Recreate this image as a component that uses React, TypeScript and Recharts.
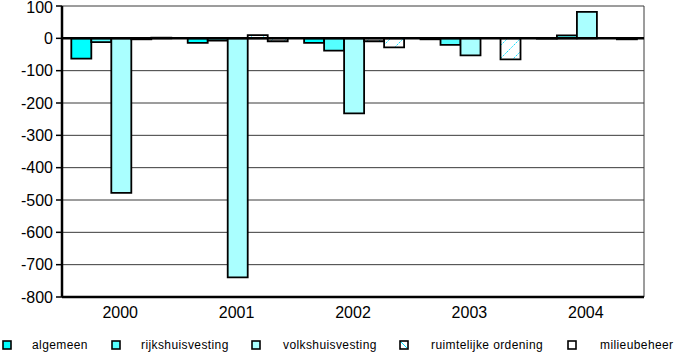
import { BarChart, Bar, XAxis, YAxis, CartesianGrid, ReferenceLine } from 'recharts';

const years = ['2000', '2001', '2002', '2003', '2004'];
const algemeen = [-63, -14, -14, -3, -1];
const rijkshuisvesting = [-12, -7, -38, -20, 9];
const volkshuisvesting = [-478, -739, -232, -53, 82];
const ruimtelijkeOrdening = [-3, 10, -9, 0, 0];
const milieubeheer = [2, -9, -28, -65, -3];
const yTicks = [100, 0, -100, -200, -300, -400, -500, -600, -700, -800];

const SERIES = [
  { key: 'algemeen', label: 'algemeen', fill: '#00ffff', legendX: 2, textX: 32 },
  { key: 'rijkshuisvesting', label: 'rijkshuisvesting', fill: '#55ffff', legendX: 111, textX: 141 },
  { key: 'volkshuisvesting', label: 'volkshuisvesting', fill: '#aaffff', legendX: 251, textX: 283 },
  { key: 'ruimtelijkeOrdening', label: 'ruimtelijke ordening', fill: 'url(#hatchA)', legendX: 399, textX: 431 },
  { key: 'milieubeheer', label: 'milieubeheer', fill: 'url(#hatchB)', legendX: 567, textX: 600 },
];

const data = years.map((year, i) => ({
  year,
  algemeen: algemeen[i],
  rijkshuisvesting: rijkshuisvesting[i],
  volkshuisvesting: volkshuisvesting[i],
  ruimtelijkeOrdening: ruimtelijkeOrdening[i],
  milieubeheer: milieubeheer[i],
}));

const font = '"Liberation Sans", Arial, sans-serif';

// y-as labels; het bovenste label iets omlaag zodat het niet van de rand valt
function YTick({ x, y, payload }: any) {
  const top = payload.value === yTicks[0];
  return (
    <text x={x} y={y} dy={top ? 7 : 5.5} textAnchor="end" fontSize={16} fontFamily={font} fill="#000">
      {payload.value}
    </text>
  );
}

function LegendRow() {
  return (
    <div style={{ position: 'absolute', left: 0, top: 338, width: 677, height: 15, fontFamily: font, fontSize: 12, lineHeight: '14px' }}>
      {SERIES.map(s => (
        <div key={s.key}>
          <svg width={10} height={10} style={{ position: 'absolute', left: s.legendX, top: 2 }}>
            <defs>
              <pattern id={`lg-${s.key}`} patternUnits="userSpaceOnUse" width="8" height="8">
                <rect width="8" height="8" fill="#fff" />
                <path d="M1,1 L8,8" stroke="#00e0ff" strokeWidth="1" />
              </pattern>
            </defs>
            <rect x={1} y={1} width={8} height={8} fill={s.fill.startsWith('url') ? (s.key === 'milieubeheer' ? '#fff' : `url(#lg-${s.key})`) : s.fill} stroke="#000" strokeWidth={1.6} />
          </svg>
          <span style={{ position: 'absolute', left: s.textX, top: 0, whiteSpace: 'nowrap', color: '#000', letterSpacing: 0.4 }}>{s.label}</span>
        </div>
      ))}
    </div>
  );
}

export default function App() {
  return (
    <div style={{ position: 'absolute', left: 0, top: 0, width: 677, height: 353, background: '#fff' }}>
      <BarChart
        width={677}
        height={353}
        data={data}
        margin={{ top: 6, right: 33, left: 0, bottom: 26 }}
        barCategoryGap="8%"
        barGap={0}
      >
        <defs>
          <pattern id="hatchA" patternUnits="userSpaceOnUse" width="12" height="12">
            <rect width="12" height="12" fill="#fff" />
            <path d="M0,12 L12,0" stroke="#00e0ff" strokeWidth="1" strokeDasharray="1.5 1" />
          </pattern>
          <pattern id="hatchB" patternUnits="userSpaceOnUse" width="13" height="13">
            <rect width="13" height="13" fill="#fff" />
            <path d="M0,13 L13,0" stroke="#00e0ff" strokeWidth="1" strokeDasharray="1.5 1" />
          </pattern>
        </defs>
        <CartesianGrid
          stroke="#3a3a3a"
          strokeWidth={1}
          verticalCoordinatesGenerator={({ offset }: any) => [offset.left + offset.width]}
        />
        <XAxis
          dataKey="year"
          height={30}
          tickLine={false}
          tickMargin={4}
          axisLine={{ stroke: '#000', strokeWidth: 2.5 }}
          tick={{ fontSize: 16, fill: '#000', fontFamily: font }}
        />
        <YAxis
          width={62}
          domain={[-800, 100]}
          ticks={yTicks}
          interval={0}
          tickSize={6}
          tickMargin={3}
          axisLine={{ stroke: '#000', strokeWidth: 2.5 }}
          tickLine={{ stroke: '#000', strokeWidth: 1.5 }}
          tick={<YTick />}
        />
        {SERIES.map(s => (
          <Bar
            key={s.key}
            dataKey={s.key}
            name={s.label}
            fill={s.fill}
            stroke="#000"
            strokeWidth={1.8}
            isAnimationActive={false}
          />
        ))}
        <ReferenceLine y={0} stroke="#000" strokeWidth={2.5} />
      </BarChart>
      <LegendRow />
    </div>
  );
}
